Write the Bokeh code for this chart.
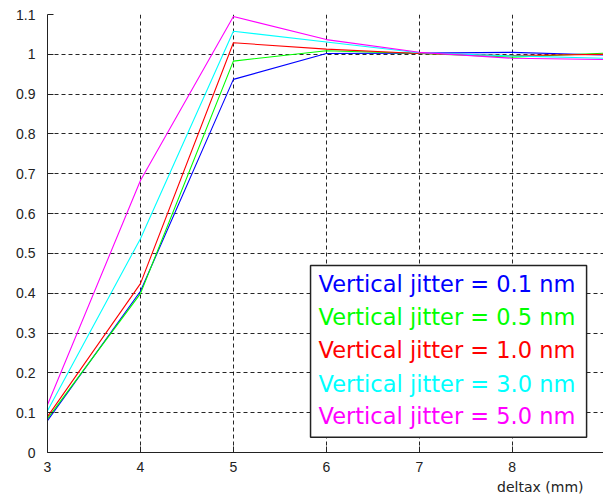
from bokeh.plotting import figure
from bokeh.models import FixedTicker, BoxAnnotation, Label, Range1d, Title
from bokeh.embed import file_html
from bokeh.resources import INLINE

# ---- data ----
deltax = [3, 4, 5, 6, 7, 8, 9]
jitter_01 = [0.080, 0.405, 0.937, 1.002, 1.003, 1.005, 0.998]
jitter_05 = [0.085, 0.399, 0.983, 1.009, 1.002, 0.993, 1.003]
jitter_10 = [0.090, 0.424, 1.029, 1.013, 1.002, 0.997, 1.000]
jitter_30 = [0.105, 0.537, 1.058, 1.031, 1.004, 0.996, 0.990]
jitter_50 = [0.120, 0.683, 1.095, 1.037, 1.005, 0.990, 0.987]
series = [jitter_01, jitter_05, jitter_10, jitter_30, jitter_50]
colors = ["#0000FF", "#00FF00", "#FF0000", "#00FFFF", "#FF00FF"]
legend_labels = ["Vertical jitter = 0.1 nm", "Vertical jitter = 0.5 nm",
                 "Vertical jitter = 1.0 nm", "Vertical jitter = 3.0 nm",
                 "Vertical jitter = 5.0 nm"]
x_ticks = [3, 4, 5, 6, 7, 8, 9]
y_ticks = [0, 0.1, 0.2, 0.3, 0.4, 0.5, 0.6, 0.7, 0.8, 0.9, 1.0, 1.1]
y_tick_labels = ["0", "0.1", "0.2", "0.3", "0.4", "0.5", "0.6", "0.7", "0.8", "0.9", "1", "1.1"]
x_label = "deltax (mm)"

p = figure(width=603, height=501, output_backend="svg", toolbar_location=None,
           x_range=Range1d(3, 8.982), y_range=Range1d(0, 1.1),
           min_border_left=47, min_border_right=0, min_border_top=14, min_border_bottom=49)
p.outline_line_color = None
p.background_fill_color = "white"

for ys, c in zip(series, colors):
    p.line(deltax, ys, line_color=c, line_width=1.1)

p.xaxis.ticker = FixedTicker(ticks=x_ticks)
p.yaxis.ticker = FixedTicker(ticks=y_ticks)
p.yaxis.major_label_overrides = {t: l for t, l in zip(y_ticks, y_tick_labels)}
for ax in (p.xaxis[0], p.yaxis[0]):
    ax.major_tick_in = 6
    ax.major_tick_out = 0
    ax.minor_tick_line_color = None
    ax.axis_line_color = "#222222"
    ax.axis_line_width = 1
    ax.major_tick_line_color = "#222222"
    ax.major_label_text_font = "Liberation Sans"
    ax.major_label_text_font_size = "14px"
    ax.major_label_text_color = "#222222"
p.yaxis.major_label_standoff = 12
p.xaxis.major_label_standoff = 9

for g in (p.xgrid[0], p.ygrid[0]):
    g.grid_line_color = "#000000"
    g.grid_line_alpha = 0.85
    g.grid_line_dash = "4 3"
    g.grid_line_width = 1

box = BoxAnnotation(left=5.83, right=8.80, top=0.4696, bottom=0.0384,
                    fill_color="white", fill_alpha=1.0,
                    line_color="#222222", line_alpha=1.0, line_width=1.5)
p.add_layout(box)

row_y = [0.4239, 0.3402, 0.2563, 0.1726, 0.0912]
for lbl, c, yy in zip(legend_labels, colors, row_y):
    p.add_layout(Label(x=5.916, y=yy, text=lbl, text_color=c,
                       text_font="DejaVu Sans", text_font_size="22.5px",
                       text_align="left", text_baseline="middle"))

xt = Title(text=x_label, align="right", offset=20, text_color="#222222",
           text_font="DejaVu Sans", text_font_size="14px",
           text_font_style="normal", standoff=5)
p.add_layout(xt, "below")

open("out.html", "w").write(file_html(p, INLINE))
